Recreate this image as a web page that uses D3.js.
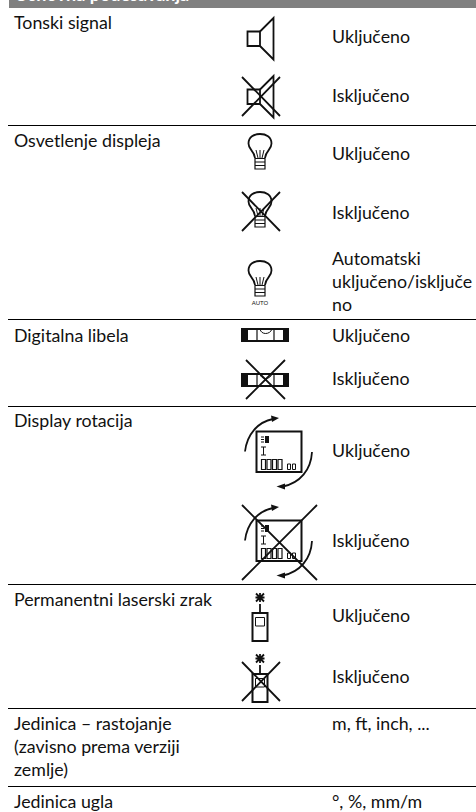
<!DOCTYPE html>
<html>
<head>
<meta charset="utf-8">
<script src="https://cdn.jsdelivr.net/npm/d3@7"></script>
<style>
  html, body { margin: 0; padding: 0; background: #fff; }
  svg { display: block; }
  text { font-family: Lato, sans-serif; fill: #111; }
</style>
</head>
<body>
<div id="table"></div>
<script>
// table content
var title = 'Osnovna podešavanja';
var settings = ['Tonski signal', 'Osvetlenje displeja', 'Digitalna libela', 'Display rotacija',
  'Permanentni laserski zrak', 'Jedinica – rastojanje', '(zavisno prema verziji', 'zemlje)', 'Jedinica ugla'];
var states = ['Uključeno', 'Isključeno', 'Uključeno', 'Isključeno', 'Automatski', 'uključeno/isključe', 'no',
  'Uključeno', 'Isključeno', 'Uključeno', 'Isključeno', 'Uključeno', 'Isključeno', 'm, ft, inch, ...', '°, %, mm/m'];
var icons = ['speaker', 'speaker', 'bulb', 'bulb', 'bulb', 'level', 'level', 'display', 'display', 'laser', 'laser'];
var crossed = [false, true, false, true, false, false, true, false, true, false, true];

// layout, in pixels
var width = 476, height = 812;
var settingY = [29, 147, 342, 427, 606, 730, 753, 776, 808];
var stateY = [43, 102, 160, 219, 265, 288, 311, 342, 385, 457, 547, 622, 683, 730, 808];
var ruleY = [125.5, 319.5, 406.5, 584.5, 708.5, 786.5];
var iconY = [0, 58, 0, 58, 127, 0, 45, 0, 89, 0, 61];
var crossBox = {speaker: [242, 19, 280, 58], bulb: [242, 134, 280, 173], level: [246, 315, 285, 354],
  display: [242, 416, 317, 491], laser: [242, 601, 280, 640]};

var svg = d3.select('#table').append('svg').attr('width', width).attr('height', height);

var x = d3.scaleOrdinal().domain(['setting', 'icon', 'state']).range([14, 260, 332]);

svg.append('rect').attr('x', 9).attr('y', 0).attr('width', width - 9).attr('height', 8).attr('fill', '#808080');
svg.append('text').attr('x', x('setting')).attr('y', 1)
  .style('font-size', '18px').style('font-weight', 'bold').style('fill', '#fff')
  .text(title);

svg.selectAll('line.rule').data(ruleY).enter().append('line')
  .attr('class', 'rule')
  .attr('x1', 8).attr('x2', width)
  .attr('y1', function(d) { return d; }).attr('y2', function(d) { return d; })
  .attr('stroke', '#000').attr('stroke-width', 1);

svg.selectAll('text.setting').data(settings).enter().append('text')
  .attr('class', 'setting')
  .attr('x', x('setting'))
  .attr('y', function(d, i) { return settingY[i]; })
  .style('font-size', '17.8px')
  .text(function(d) { return d; });

svg.selectAll('text.state').data(states).enter().append('text')
  .attr('class', 'state')
  .attr('x', x('state'))
  .attr('y', function(d, i) { return stateY[i]; })
  .style('font-size', '17.8px')
  .text(function(d) { return d; });

var stroke = '#111';

function outline(g, d, w) {
  return g.append('path').attr('d', d).attr('fill', 'none').attr('stroke', stroke).attr('stroke-width', w || 1.8);
}

function solid(g, d) {
  return g.append('path').attr('d', d).attr('fill', stroke);
}

var draw = {
  speaker: function(g) {
    outline(g, 'M247.5 31.5H260V46H247.5Z');
    outline(g, 'M260 31.5L273.5 18V59.5L260 46');
  },
  bulb: function(g) {
    outline(g, 'M255 158C254 150 248.5 150 248.5 143.5C248.5 137 254 134 260 134C266 134 271.5 137 271.5 143.5C271.5 150 266 150 265 158');
    outline(g, 'M256 150L258 158M264 150L262 158M260 150V158', 1);
    outline(g, 'M255 158.5H265V169H255Z', 1.2);
    outline(g, 'M255 162H265M255 165.5H265', 1.2);
  },
  level: function(g) {
    solid(g, 'M241 328H289V342H241Z');
    g.append('rect').attr('x', 248).attr('y', 330).attr('width', 35).attr('height', 10).attr('fill', '#fff');
    outline(g, 'M257 329V341M274 329V341', 1.2);
    outline(g, 'M260 329C261 335 270 335 272 329', 1);
  },
  display: function(g) {
    outline(g, 'M256.5 431.5H301.5V472H256.5Z', 2);
    solid(g, 'M265 436H269V443H265Z');
    outline(g, 'M261 437H264M261 439.5H264M261 442H264', 1);
    outline(g, 'M261 447H266M263.5 447V455M261 455H266', 1);
    [261.5, 267, 272.5, 278].forEach(function(px) {
      outline(g, 'M' + px + ' 459.5h4v10h-4Z', 1.2);
    });
    [287.5, 292.5].forEach(function(px) {
      outline(g, 'M' + px + ' 464h3v5.5h-3Z', 1);
    });
    outline(g, 'M245 451.5C247 434 258 422 273 419');
    solid(g, 'M279 418L271 415.5L272 422Z');
    outline(g, 'M312 452C311 470 300 483 283 486.5');
    solid(g, 'M276.5 486.5L285 483.5L285 489.5Z');
  },
  laser: function(g) {
    outline(g, 'M252.5 613H267.5V641H252.5Z', 2);
    outline(g, 'M255.5 617.5H264.5V626H255.5Z', 1);
    outline(g, 'M260 604V613');
    outline(g, 'M256 593.5L264 601.5M264 593.5L256 601.5M255.5 597.5H264.5M260 593V602', 1.8);
  }
};

icons.forEach(function(name, i) {
  var g = svg.append('g').attr('class', 'icon ' + name)
    .attr('transform', 'translate(0,' + iconY[i] + ')');
  draw[name](g);
  if (crossed[i]) {
    var b = crossBox[name];
    outline(g, 'M' + b[0] + ' ' + b[1] + 'L' + b[2] + ' ' + b[3] + 'M' + b[2] + ' ' + b[1] + 'L' + b[0] + ' ' + b[3]);
  }
  if (name === 'bulb' && iconY[i] === 127) {
    g.append('text').attr('x', x('icon')).attr('y', 178)
      .attr('text-anchor', 'middle')
      .style('font-family', 'Liberation Sans').style('font-size', '6px')
      .text('AUTO');
  }
});
</script>
</body>
</html>
